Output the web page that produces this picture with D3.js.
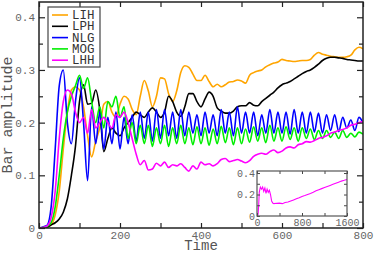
<!DOCTYPE html>
<html>
<head>
<meta charset="utf-8">
<script src="https://cdn.jsdelivr.net/npm/d3@7"></script>
<style>
  body { margin: 0; background: #fff; }
  text { font-family: "Liberation Mono", "DejaVu Sans Mono", monospace; }
</style>
</head>
<body>
<div id="chart"></div>
<script>
// sampled every 10 time units, 0..800
const times = d3.range(0, 801, 10);

const lih = [0, 0.001, 0.002, 0.006, 0.025, 0.07, 0.15, 0.22, 0.262, 0.268,
  0.262, 0.23, 0.175, 0.135, 0.165, 0.19, 0.235, 0.24, 0.22, 0.21,
  0.235, 0.25, 0.245, 0.225, 0.215, 0.25, 0.28, 0.26, 0.23, 0.25,
  0.285, 0.283, 0.255, 0.24, 0.26, 0.295, 0.308, 0.305, 0.292, 0.28,
  0.28, 0.29, 0.278, 0.268, 0.273, 0.268, 0.272, 0.277, 0.278, 0.281,
  0.279, 0.275, 0.29, 0.295, 0.298, 0.3, 0.306, 0.31, 0.313, 0.315,
  0.32, 0.318, 0.317, 0.316, 0.317, 0.318, 0.318, 0.32, 0.328, 0.333,
  0.33, 0.328, 0.326, 0.325, 0.324, 0.324, 0.325, 0.328, 0.338, 0.343, 0.34];

const lph = [0, 0, 0.001, 0.006, 0.01, 0.017, 0.03, 0.055, 0.1, 0.155,
  0.24, 0.272, 0.235, 0.237, 0.262, 0.225, 0.145, 0.17, 0.19, 0.18,
  0.175, 0.19, 0.2, 0.21, 0.22, 0.215, 0.21, 0.22, 0.228, 0.22,
  0.21, 0.22, 0.25, 0.24, 0.22, 0.212, 0.23, 0.255, 0.255, 0.24,
  0.23, 0.245, 0.258, 0.25, 0.228, 0.222, 0.218, 0.218, 0.222, 0.23,
  0.232, 0.232, 0.238, 0.233, 0.232, 0.24, 0.246, 0.252, 0.258, 0.266,
  0.272, 0.275, 0.278, 0.283, 0.288, 0.293, 0.297, 0.3, 0.305, 0.311,
  0.318, 0.322, 0.324, 0.324, 0.323, 0.322, 0.32, 0.319, 0.318, 0.317, 0.317];

const nlg = [0, 0.002, 0.005, 0.04, 0.15, 0.27, 0.3, 0.2, 0.16, 0.24,
  0.285, 0.2, 0.09, 0.23, 0.16, 0.22, 0.15, 0.21, 0.16, 0.22,
  0.15, 0.21, 0.16, 0.215, 0.165, 0.22, 0.17, 0.22, 0.165, 0.225,
  0.17, 0.225, 0.175, 0.22, 0.17, 0.225, 0.175, 0.22, 0.18, 0.215,
  0.175, 0.22, 0.18, 0.215, 0.175, 0.225, 0.18, 0.22, 0.175, 0.23,
  0.18, 0.22, 0.18, 0.22, 0.175, 0.215, 0.18, 0.225, 0.18, 0.22,
  0.18, 0.22, 0.178, 0.225, 0.18, 0.22, 0.18, 0.22, 0.182, 0.218,
  0.18, 0.215, 0.185, 0.215, 0.183, 0.21, 0.19, 0.205, 0.185, 0.21, 0.2];

const mog = [0, 0.001, 0.003, 0.01, 0.04, 0.1, 0.17, 0.22, 0.25, 0.27,
  0.29, 0.265, 0.285, 0.24, 0.2, 0.23, 0.19, 0.24, 0.23, 0.25,
  0.21, 0.23, 0.17, 0.2, 0.16, 0.195, 0.16, 0.195, 0.155, 0.19,
  0.16, 0.195, 0.155, 0.19, 0.16, 0.195, 0.16, 0.19, 0.158, 0.192,
  0.16, 0.19, 0.157, 0.188, 0.16, 0.193, 0.162, 0.19, 0.158, 0.19,
  0.16, 0.188, 0.163, 0.192, 0.165, 0.19, 0.162, 0.195, 0.165, 0.19,
  0.165, 0.192, 0.168, 0.19, 0.165, 0.19, 0.17, 0.188, 0.168, 0.185,
  0.17, 0.185, 0.172, 0.182, 0.17, 0.185, 0.172, 0.18, 0.173, 0.182, 0.178];

const lhh = [0, 0.001, 0.004, 0.02, 0.07, 0.17, 0.24, 0.262, 0.255, 0.22,
  0.2, 0.21, 0.18, 0.225, 0.19, 0.2, 0.21, 0.2, 0.19, 0.215,
  0.21, 0.22, 0.2, 0.17, 0.14, 0.12, 0.128, 0.11, 0.112, 0.123,
  0.118, 0.125, 0.115, 0.12, 0.118, 0.122, 0.115, 0.108, 0.118, 0.112,
  0.125, 0.12, 0.122, 0.118, 0.122, 0.13, 0.132, 0.126, 0.128, 0.13,
  0.127, 0.124, 0.128, 0.136, 0.14, 0.142, 0.14, 0.145, 0.148, 0.143,
  0.146, 0.152, 0.154, 0.152, 0.158, 0.16, 0.164, 0.163, 0.166, 0.17,
  0.172, 0.175, 0.18, 0.182, 0.185, 0.187, 0.19, 0.195, 0.197, 0.2, 0.202];

const seriesNames = ["LIH", "LPH", "NLG", "MOG", "LHH"];
const seriesColors = ["#ffa500", "#000000", "#0000ff", "#00ee00", "#ff00ff"];
const seriesValues = [lih, lph, nlg, mog, lhh];

const xTicks = [0, 200, 400, 600, 800];
const yTicks = [0, 0.1, 0.2, 0.3, 0.4];

// inset: long LHH run
const insetTimes = [0, 10, 20, 30, 40, 60, 80, 100, 120, 140, 160, 180, 200, 220, 240, 260, 280, 300,
  350, 400, 450, 500, 550, 600, 650, 700, 750, 800, 850, 900, 950, 1000, 1050, 1100,
  1150, 1200, 1250, 1300, 1350, 1400, 1450, 1500, 1550, 1600];
const insetValues = [0, 0.002, 0.02, 0.1, 0.22, 0.27, 0.25, 0.27, 0.23, 0.26, 0.21, 0.25, 0.22, 0.24, 0.2, 0.14, 0.12, 0.115,
  0.118, 0.12, 0.115, 0.125, 0.13, 0.14, 0.15, 0.16, 0.17, 0.182, 0.19, 0.2, 0.21, 0.222, 0.235, 0.245,
  0.255, 0.265, 0.275, 0.285, 0.295, 0.305, 0.315, 0.325, 0.332, 0.34];
const insetXTicks = [0, 800, 1600];
const insetYTicks = [0, 0.2, 0.4];

const W = 374, H = 253;
const margin = { top: 2, right: 11, bottom: 25, left: 39 };
const width = W - margin.left - margin.right;
const height = H - margin.top - margin.bottom;

const svg = d3.select("#chart").append("svg")
    .attr("width", W)
    .attr("height", H);

const g = svg.append("g")
    .attr("transform", `translate(${margin.left},${margin.top})`);

const x = d3.scaleLinear().domain([0, 800]).range([0, width]);
const y = d3.scaleLinear().domain([0, 0.429]).range([height, 0]);

const line = d3.line()
    .x((d, i) => x(times[i]))
    .y(d => y(d))
    .curve(d3.curveMonotoneX);

g.append("clipPath").attr("id", "clip")
    .append("rect").attr("width", width).attr("height", height);

const lines = g.append("g").attr("clip-path", "url(#clip)");
seriesValues.forEach((vals, k) => {
    lines.append("path")
        .datum(vals)
        .attr("fill", "none")
        .attr("stroke", seriesColors[k])
        .attr("stroke-width", 1.6)
        .attr("stroke-linejoin", "round")
        .attr("d", line);
});

// axes, ticks inward on all four sides
const gray = "#666";
function styleAxis(sel) {
    sel.select(".domain").remove();
    sel.selectAll(".tick line").attr("stroke", "#222").attr("stroke-width", 1.2);
    sel.selectAll("text").attr("fill", gray).style("font-size", "11px");
}

const xMinor = d3.range(0, 801, 100);
const yMinor = d3.range(0, 0.43, 0.05);
const isMajorY = d => yTicks.some(t => Math.abs(t - d) < 1e-6);

g.append("g").attr("transform", `translate(0,${height})`)
    .call(d3.axisBottom(x).tickValues(xMinor).tickSize(-5).tickPadding(3)
        .tickFormat(d => xTicks.includes(d) ? d : ""))
    .call(styleAxis);
g.append("g")
    .call(d3.axisTop(x).tickValues(xMinor).tickSize(-5).tickFormat(""))
    .call(styleAxis);
const yLeft = g.append("g")
    .call(d3.axisLeft(y).tickValues(yMinor).tickSize(-4).tickPadding(4)
        .tickFormat(d => isMajorY(d) ? (Math.abs(d) < 1e-6 ? "0" : d3.format(".1f")(d)) : ""))
    .call(styleAxis);
const yRight = g.append("g").attr("transform", `translate(${width},0)`)
    .call(d3.axisRight(y).tickValues(yMinor).tickSize(-4).tickFormat(""))
    .call(styleAxis);

// major y ticks a bit longer
yLeft.selectAll(".tick").filter(d => isMajorY(d)).select("line").attr("x2", 6);
yRight.selectAll(".tick").filter(d => isMajorY(d)).select("line").attr("x2", -6);

g.append("rect")
    .attr("width", width).attr("height", height)
    .attr("fill", "none").attr("stroke", "#222").attr("stroke-width", 1.5);

// axis titles
svg.append("text")
    .attr("x", margin.left + width / 2).attr("y", 250)
    .attr("text-anchor", "middle")
    .attr("fill", "#555").style("font-size", "14px")
    .text("Time");
svg.append("text")
    .attr("transform", `translate(12,${margin.top + height / 2}) rotate(-90)`)
    .attr("text-anchor", "middle")
    .attr("fill", "#555").style("font-size", "15px")
    .text("Bar amplitude");

// legend
const legend = g.append("g").attr("transform", "translate(9,5)");
legend.append("rect")
    .attr("width", 52).attr("height", 60)
    .attr("fill", "#fff").attr("stroke", "#444").attr("stroke-width", 1.2);
seriesNames.forEach((name, k) => {
    const ly = 8 + k * 11.3;
    legend.append("line")
        .attr("x1", 4).attr("x2", 20).attr("y1", ly).attr("y2", ly)
        .attr("stroke", seriesColors[k]).attr("stroke-width", 1.6);
    legend.append("text")
        .attr("x", 24).attr("y", ly + 4)
        .attr("fill", "#333").style("font-size", "12.5px")
        .text(name);
});

// inset
const inset = { left: 257, top: 171, width: 90, height: 45 };
const ig = svg.append("g").attr("transform", `translate(${inset.left},${inset.top})`);
const ix = d3.scaleLinear().domain([0, 1600]).range([0, inset.width]);
const iy = d3.scaleLinear().domain([0, 0.419]).range([inset.height, 0]);

ig.append("rect").attr("width", inset.width).attr("height", inset.height).attr("fill", "#fff");
ig.append("path")
    .datum(insetValues)
    .attr("fill", "none")
    .attr("stroke", "#ff00ff")
    .attr("stroke-width", 1.1)
    .attr("d", d3.line().x((d, i) => ix(insetTimes[i])).y(d => iy(d)));

function styleInset(sel) {
    sel.select(".domain").remove();
    sel.selectAll(".tick line").attr("stroke", "#444").attr("stroke-width", 1);
    sel.selectAll("text").attr("fill", gray).style("font-size", "10px");
}
ig.append("g").attr("transform", `translate(0,${inset.height})`)
    .call(d3.axisBottom(ix).tickValues([0, 400, 800, 1200, 1600]).tickSize(-3).tickPadding(3)
        .tickFormat(d => insetXTicks.includes(d) ? d : ""))
    .call(styleInset);
ig.append("g")
    .call(d3.axisTop(ix).tickValues([0, 400, 800, 1200, 1600]).tickSize(-3).tickFormat(""))
    .call(styleInset);
ig.append("g")
    .call(d3.axisLeft(iy).tickValues([0, 0.1, 0.2, 0.3, 0.4]).tickSize(-3).tickPadding(2)
        .tickFormat(d => insetYTicks.includes(d) ? (d === 0 ? "0" : d3.format(".1f")(d)) : ""))
    .call(styleInset);
ig.append("g").attr("transform", `translate(${inset.width},0)`)
    .call(d3.axisRight(iy).tickValues([0, 0.1, 0.2, 0.3, 0.4]).tickSize(-3).tickFormat(""))
    .call(styleInset);
ig.append("rect").attr("width", inset.width).attr("height", inset.height)
    .attr("fill", "none").attr("stroke", "#555").attr("stroke-width", 1.2);
</script>
</body>
</html>
